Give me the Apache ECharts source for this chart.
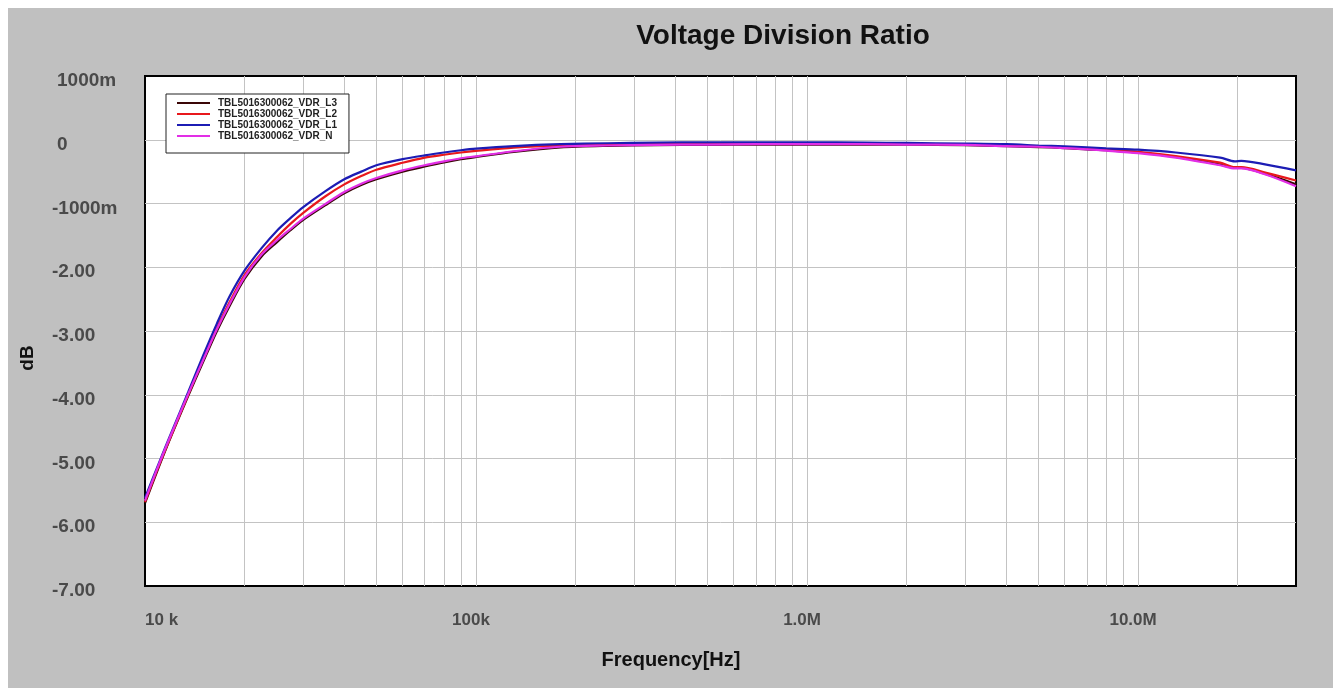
<!DOCTYPE html>
<html><head><meta charset="utf-8">
<script src="https://cdn.jsdelivr.net/npm/echarts@6/dist/echarts.min.js"></script>
<style>
html,body{margin:0;padding:0;background:#fff;}
#wrap{position:relative;width:1333px;height:688px;background:#fff;overflow:hidden;}
#panel{position:absolute;left:8px;top:8px;right:0;bottom:0;background:#c0c0c0;}
#chart{position:absolute;left:0;top:0;width:1333px;height:688px;}
</style></head><body>
<div id="wrap"><div id="panel"></div><div id="chart"></div></div>
<script>
const frequencies = [10e3, 11e3, 12e3, 13.5e3, 15e3, 16.5e3, 18e3, 20e3, 22.5e3, 25e3, 27.5e3, 30e3, 35e3, 40e3, 45e3, 50e3, 60e3, 70e3, 80e3, 90e3, 100e3, 130e3, 180e3, 250e3, 350e3, 500e3, 700e3, 1e6, 1.5e6, 2e6, 3e6, 4e6, 5e6, 6e6, 7e6, 8e6, 10e6, 13e6, 17.7e6, 19.6e6, 20.5e6, 24.4e6, 30e6];

const vdrL3 = [-5.70, -5.14, -4.65, -4.02, -3.48, -3.00, -2.61, -2.18, -1.83, -1.61, -1.42, -1.26, -1.03, -0.84, -0.71, -0.62, -0.50, -0.42, -0.355, -0.305, -0.27, -0.19, -0.12, -0.095, -0.085, -0.08, -0.075, -0.075, -0.075, -0.078, -0.085, -0.10, -0.115, -0.13, -0.15, -0.165, -0.20, -0.27, -0.39, -0.44, -0.44, -0.54, -0.70];
const vdrL2 = [-5.68, -5.12, -4.64, -4.00, -3.44, -2.95, -2.55, -2.12, -1.78, -1.53, -1.32, -1.15, -0.89, -0.70, -0.57, -0.47, -0.36, -0.28, -0.235, -0.20, -0.175, -0.125, -0.09, -0.075, -0.065, -0.06, -0.06, -0.06, -0.06, -0.065, -0.07, -0.085, -0.10, -0.12, -0.14, -0.155, -0.19, -0.255, -0.36, -0.43, -0.43, -0.52, -0.64];
const vdrL1 = [-5.62, -5.08, -4.60, -3.96, -3.38, -2.88, -2.46, -2.05, -1.70, -1.43, -1.23, -1.06, -0.81, -0.62, -0.50, -0.40, -0.305, -0.245, -0.20, -0.165, -0.14, -0.10, -0.07, -0.055, -0.045, -0.04, -0.04, -0.04, -0.045, -0.05, -0.06, -0.07, -0.09, -0.105, -0.12, -0.135, -0.155, -0.20, -0.28, -0.34, -0.33, -0.39, -0.48];
const vdrN  = [-5.66, -5.10, -4.62, -3.99, -3.45, -2.97, -2.58, -2.15, -1.80, -1.58, -1.40, -1.24, -1.01, -0.82, -0.69, -0.60, -0.48, -0.40, -0.34, -0.29, -0.26, -0.18, -0.11, -0.09, -0.08, -0.075, -0.07, -0.07, -0.07, -0.075, -0.08, -0.10, -0.11, -0.13, -0.15, -0.17, -0.21, -0.28, -0.40, -0.45, -0.45, -0.55, -0.73];

const seriesNames = ['TBL5016300062_VDR_L3', 'TBL5016300062_VDR_L2', 'TBL5016300062_VDR_L1', 'TBL5016300062_VDR_N'];
const seriesValues = [vdrL3, vdrL2, vdrL1, vdrN];
const seriesColors = ['#3a0606', '#e8181c', '#1c1cb4', '#e22ee6'];

const xTickValues = [1e4, 1e5, 1e6, 1e7];
const xTickLabels = ['10 k', '100k', '1.0M', '10.0M'];
const yTickValues = [1, 0, -1, -2, -3, -4, -5, -6, -7];
const yTickLabels = ['1000m', '0', '-1000m', '-2.00', '-3.00', '-4.00', '-5.00', '-6.00', '-7.00'];

const titleText = 'Voltage Division Ratio';
const xName = 'Frequency[Hz]';
const yName = 'dB';

// log-decade gridline positions (axis structure)
const gridFreqs = [];
for (let e = 4; e <= 7; e++) {
  for (let m = 1; m <= 9; m++) {
    const f = m * Math.pow(10, e);
    if (f > 1e4 && f < 3e7) gridFreqs.push(f);
  }
}

const FONT = '"Liberation Sans", Arial, sans-serif';
const LABEL_COLOR = '#4a4a4a';
const chart = echarts.init(document.getElementById('chart'), null, {renderer: 'canvas'});

function xLabel(v) {
  for (let i = 0; i < xTickValues.length; i++) {
    if (Math.abs(Math.log10(v) - Math.log10(xTickValues[i])) < 1e-6) return xTickLabels[i];
  }
  return '';
}
function yLabel(v) {
  for (let i = 0; i < yTickValues.length; i++) {
    if (Math.abs(v - yTickValues[i]) < 1e-9) {
      return (yTickValues[i] >= 0 ? '{pos|' : '{neg|') + yTickLabels[i] + '}';
    }
  }
  return '';
}

const lineSeries = seriesNames.map((name, i) => ({
  name: name,
  type: 'line',
  data: frequencies.map((f, j) => [f, seriesValues[i][j]]),
  showSymbol: false,
  symbol: 'none',
  smooth: 0.3,
  z: 3 + i,
  lineStyle: {color: seriesColors[i], width: 2.2},
  itemStyle: {color: seriesColors[i]},
  emphasis: {disabled: true}
}));

const gridSeries = {
  name: 'gridlines',
  type: 'line',
  data: [],
  silent: true,
  z: 1,
  markLine: {
    silent: true,
    z: 1,
    animation: false,
    symbol: ['none', 'none'],
    label: {show: false},
    emphasis: {disabled: true},
    lineStyle: {color: '#c3c3c3', width: 1, type: 'solid'},
    data: gridFreqs.map(f => ({xAxis: f}))
  }
};

const yLabelStyle = {fontSize: 19, fontWeight: 'bold', color: LABEL_COLOR, fontFamily: FONT, lineHeight: 10};

chart.setOption({
  backgroundColor: 'transparent',
  animation: false,
  textStyle: {fontFamily: FONT},
  grid: {
    left: 145, top: 76, right: 37, bottom: 102,
    show: true, backgroundColor: '#ffffff', borderColor: '#000000', borderWidth: 2
  },
  legend: {
    orient: 'vertical',
    left: 166, top: 94,
    data: seriesNames,
    icon: 'rect',
    itemWidth: 33, itemHeight: 2,
    itemGap: 1,
    backgroundColor: '#ffffff',
    borderColor: '#222222', borderWidth: 1, borderRadius: 0,
    padding: [4, 12, 12, 11],
    selectedMode: false,
    textStyle: {fontSize: 10, fontWeight: 'bold', color: '#222', lineHeight: 10, padding: [0, 0, 0, 3], fontFamily: FONT}
  },
  xAxis: {
    type: 'log', logBase: 10, min: 1e4, max: 3e7,
    axisLine: {show: false}, axisTick: {show: false},
    splitLine: {show: false},
    axisLabel: {
      formatter: xLabel, color: LABEL_COLOR, fontSize: 17, fontWeight: 'bold', fontFamily: FONT,
      margin: 26, alignMinLabel: 'left', padding: [0, 10, 0, 0]
    }
  },
  yAxis: {
    type: 'value', min: -7, max: 1, interval: 1,
    axisLine: {show: false}, axisTick: {show: false},
    splitLine: {show: true, showMinLine: false, showMaxLine: false, lineStyle: {color: '#c3c3c3', width: 1}},
    axisLabel: {
      formatter: yLabel, color: LABEL_COLOR, fontSize: 19, fontWeight: 'bold', fontFamily: FONT,
      align: 'left', verticalAlign: 'top', lineHeight: 10, margin: 93,
      rich: {
        pos: Object.assign({padding: [0, 0, 0, 5]}, yLabelStyle),
        neg: Object.assign({}, yLabelStyle)
      }
    }
  },
  graphic: [
    {type: 'text', x: 783, y: 36, silent: true,
     style: {text: titleText, font: 'bold 28px ' + FONT, fill: '#111', align: 'center', verticalAlign: 'middle'}},
    {type: 'text', x: 671, y: 660, silent: true,
     style: {text: xName, font: 'bold 20px ' + FONT, fill: '#111', align: 'center', verticalAlign: 'middle'}},
    {type: 'text', x: 28, y: 358, rotation: Math.PI / 2, silent: true,
     style: {text: yName, font: 'bold 19px ' + FONT, fill: '#111', align: 'center', verticalAlign: 'middle'}}
  ],
  series: [gridSeries].concat(lineSeries)
});
</script>
</body></html>
